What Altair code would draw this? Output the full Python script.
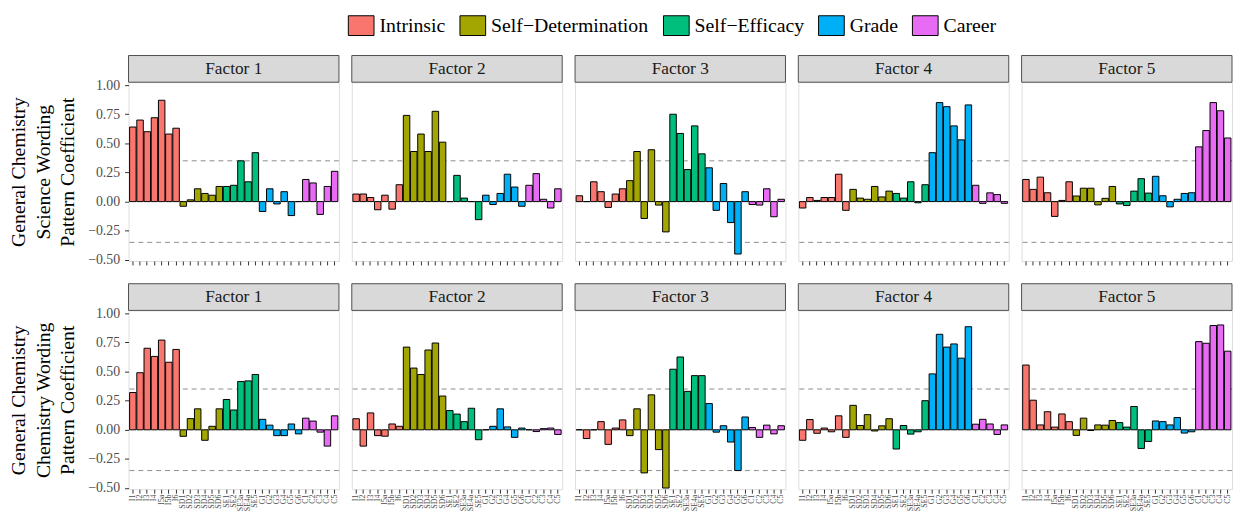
import altair as alt
import pandas as pd

# ---------------- data ----------------
constructs = ["Intrinsic", "Self\u2212Determination", "Self\u2212Efficacy", "Grade", "Career"]
colors = ["#F8766D", "#A3A500", "#00BF7D", "#00B0F6", "#E76BF3"]

intrinsic_items = ["I1", "I2", "I3", "I4", "I5a", "I5b", "I6"]
sd_items = ["SD1", "SD2", "SD3", "SD4", "SD5", "SD6"]
se_items = ["SE1", "SE2", "SE3a", "SE4a", "SE5"]
grade_items = ["G1", "G2", "G3", "G4", "G5", "G6"]
career_items = ["C1", "C2", "C3", "C4", "C5"]

items = intrinsic_items + sd_items + se_items + grade_items + career_items
groups = ([constructs[0]] * len(intrinsic_items) + [constructs[1]] * len(sd_items)
          + [constructs[2]] * len(se_items) + [constructs[3]] * len(grade_items)
          + [constructs[4]] * len(career_items))

# Science wording (top row)
sci_f1 = [0.64, 0.70, 0.60, 0.72, 0.87, 0.58, 0.63,
          -0.04, 0.015, 0.11, 0.07, 0.055, 0.13,
          0.13, 0.14, 0.35, 0.17, 0.42,
          -0.085, 0.11, -0.02, 0.085, -0.12, 0.0,
          0.19, 0.16, -0.11, 0.13, 0.26]
sci_f2 = [0.065, 0.065, 0.035, -0.07, 0.055, -0.065, 0.145,
          0.74, 0.43, 0.58, 0.43, 0.775, 0.51,
          0.0, 0.225, 0.03, 0.0, -0.155,
          0.055, -0.025, 0.07, 0.235, 0.125, -0.04,
          0.14, 0.24, 0.02, -0.055, 0.11]
sci_f3 = [0.05, 0.0, 0.17, 0.085, -0.05, 0.065, 0.11,
          0.18, 0.43, -0.145, 0.445, -0.03, -0.26,
          0.75, 0.585, 0.275, 0.65, 0.41,
          0.29, -0.075, 0.155, -0.18, -0.45, 0.085,
          -0.025, -0.03, 0.11, -0.13, 0.02]
sci_f4 = [-0.055, 0.035, 0.01, 0.035, 0.035, 0.235, -0.075,
          0.105, 0.03, 0.02, 0.13, 0.04, 0.09,
          0.07, 0.03, 0.17, -0.01, 0.145,
          0.42, 0.85, 0.815, 0.65, 0.53, 0.83,
          0.14, -0.015, 0.075, 0.06, -0.015]
sci_f5 = [0.19, 0.105, 0.21, 0.076, -0.127, 0.01, 0.17,
          0.048, 0.115, 0.115, -0.028, 0.028, 0.13,
          -0.02, -0.034, 0.09, 0.197, 0.073,
          0.217, 0.05, -0.045, 0.02, 0.07, 0.076,
          0.47, 0.61, 0.85, 0.78, 0.546]

# Chemistry wording (bottom row)
chem_f1 = [0.32, 0.49, 0.70, 0.63, 0.77, 0.58, 0.69,
           -0.056, 0.096, 0.18, -0.09, 0.03, 0.18,
           0.26, 0.17, 0.415, 0.42, 0.475,
           0.09, 0.04, -0.05, -0.05, 0.05, -0.035,
           0.10, 0.075, -0.02, -0.14, 0.12]
chem_f2 = [0.095, -0.14, 0.145, -0.05, -0.055, 0.05, 0.03,
           0.71, 0.53, 0.475, 0.685, 0.745, 0.29,
           0.165, 0.135, 0.07, 0.185, -0.085,
           0.0, 0.03, 0.18, 0.025, -0.065, 0.015,
           0.0, -0.015, 0.01, 0.015, -0.04]
chem_f3 = [0.0, -0.075, 0.0, 0.07, -0.125, 0.015, 0.085,
           -0.05, 0.18, -0.37, 0.30, -0.17, -0.50,
           0.52, 0.625, 0.33, 0.465, 0.465,
           0.225, -0.02, 0.035, -0.105, -0.35, 0.11,
           0.02, -0.065, 0.04, -0.035, 0.035]
chem_f4 = [-0.09, 0.088, -0.03, 0.015, -0.017, 0.12, -0.065,
           0.21, 0.037, 0.13, -0.01, 0.034, 0.095,
           -0.165, 0.037, -0.037, -0.017, 0.25,
           0.48, 0.82, 0.71, 0.737, 0.615, 0.885,
           0.048, 0.09, 0.05, -0.04, 0.042]
chem_f5 = [0.556, 0.254, 0.042, 0.155, 0.023, 0.136, 0.07,
           -0.048, 0.10, -0.006, 0.042, 0.04, 0.08,
           0.062, 0.023, 0.20, -0.16, -0.10,
           0.076, 0.07, 0.042, 0.105, -0.028, -0.017,
           0.757, 0.743, 0.895, 0.90, 0.675]

science = [sci_f1, sci_f2, sci_f3, sci_f4, sci_f5]
chemistry = [chem_f1, chem_f2, chem_f3, chem_f4, chem_f5]
factor_labels = ["Factor 1", "Factor 2", "Factor 3", "Factor 4", "Factor 5"]
y_ticks = [-0.5, -0.25, 0.0, 0.25, 0.5, 0.75, 1.0]
cutoffs = [0.35, -0.35]
row_titles = [["General Chemistry", "Science Wording", "Pattern Coefficient"],
              ["General Chemistry", "Chemistry Wording", "Pattern Coefficient"]]

# ---------------- layout constants ----------------
W, H = 213, 181
STRIP = 27
FONT = "Liberation Serif"
Y_DOMAIN = [-0.51, 1.025]


def panel(values, factor, first, ytitle, bottom, with_legend):
    df = pd.DataFrame({"item": items, "construct": groups, "value": values})

    x_axis = alt.Axis(
        title=None, domain=False, ticks=True, tickSize=4, tickColor="#333333",
        tickWidth=1, labels=bottom, labelAngle=270, labelFont=FONT, labelFontSize=8,
        labelColor="#4D4D4D", labelPadding=1, labelOverlap=False,
    )
    if first:
        y_axis = alt.Axis(
            title=ytitle, values=y_ticks, format=".2f", domain=False, grid=False,
            tickSize=4, tickColor="#333333", labelFont=FONT, labelFontSize=14,
            labelColor="#4D4D4D", labelPadding=5, titleFont=FONT,
            titleFontSize=20, titleFontWeight="normal", titleColor="black",
            titleLineHeight=25, titlePadding=10,
        )
    else:
        y_axis = None

    if with_legend:
        legend = alt.Legend(
            orient="none", legendX=225, legendY=-68, direction="horizontal",
            title=None, symbolType="M-1.3,-1H1.3V1H-1.3Z", symbolSize=400,
            symbolStrokeColor="black", symbolStrokeWidth=1, symbolOpacity=1,
            labelFont=FONT, labelFontSize=20, labelColor="black",
            labelOffset=8, columnPadding=12,
        )
    else:
        legend = None

    x_enc = alt.X("item:N", sort=items,
                  scale=alt.Scale(domain=items, paddingInner=0.1, paddingOuter=0.15),
                  axis=x_axis)
    y_scale = alt.Scale(domain=Y_DOMAIN, nice=False, zero=False)

    bars = alt.Chart(df).mark_bar(stroke="black", strokeWidth=1, clip=True).encode(
        x=x_enc,
        y=alt.Y("value:Q", scale=y_scale, axis=y_axis),
        color=alt.Color("construct:N",
                        scale=alt.Scale(domain=constructs, range=colors),
                        legend=legend),
    )

    rules = alt.Chart(pd.DataFrame({"v": cutoffs})).mark_rule(
        strokeDash=[5, 4], color="#8C8C8C", strokeWidth=1
    ).encode(y=alt.Y("v:Q", scale=y_scale, axis=y_axis))

    strip_df = pd.DataFrame({"f": [factor]})
    strip = alt.Chart(strip_df).mark_rect(
        fill="#D9D9D9", stroke="#4D4D4D", strokeWidth=1
    ).encode(x=alt.value(0), x2=alt.value(W), y=alt.value(-STRIP), y2=alt.value(0))
    strip_text = alt.Chart(strip_df).mark_text(
        font=FONT, fontSize=17.5, color="#1A1A1A", baseline="middle", align="center"
    ).encode(text="f:N", x=alt.value(W / 2), y=alt.value(-STRIP / 2))

    return alt.layer(strip, strip_text, rules, bars).properties(width=W, height=H)


rows = []
for r, data in enumerate([science, chemistry]):
    panels = []
    for i in range(5):
        panels.append(panel(data[i], factor_labels[i], i == 0, row_titles[r],
                            r == 1, r == 0 and i == 0))
    rows.append(alt.hconcat(*panels, spacing=11))

chart = alt.vconcat(*rows, spacing=15).resolve_scale(
    color="shared"
).properties(
    padding={"left": 0, "top": 4, "right": 0, "bottom": 0}
).configure_view(
    stroke="#4D4D4D", strokeWidth=1
).configure(
    background="white"
)

chart.save("out.html", embed_options={"renderer": "svg", "actions": False})
